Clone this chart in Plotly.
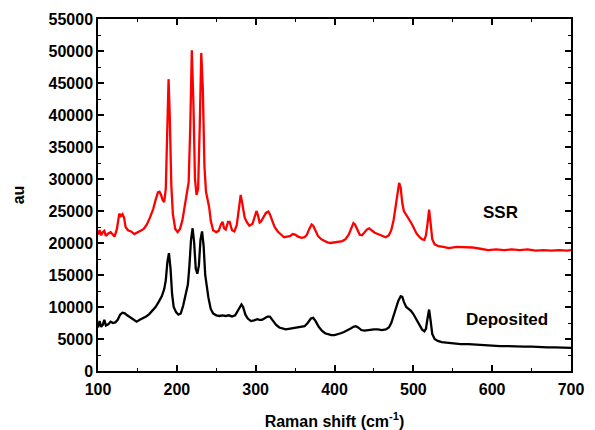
import plotly.graph_objects as go

# SSR spectrum (red)
ssr_x = [100,102,104,106,108,110,113,116,119,121,124,127,129,131,133,135,138,142,146,150,154,158,162,166,170,173,176,178,180,182,184,186,188,189.5,191,193,195,198,201,204,207,210,213,215,217,219,221,223,225,227,229,231,233,235,237,239,241,243,246,250,253,256,258,260,262,265,267,270,273,276,279,281,283,286,289,292,296,299,301,303,305,307,310,313,316,318,321,324,328,332,336,340,344,347,350,354,358,362,365,368,371,373,376,379,383,387,391,395,400,405,410,414,418,421,424,426,429,432,435,438,441,444,447,451,455,460,465,469,472,475,478,480,482,484,486,488,490,492,494,497,500,504,508,511,514,516,518,520,522,524,527,532,538,545,555,565,575,585,595,605,615,625,635,645,655,665,675,685,695,700]
ssr_y = [21300,22000,21200,21700,21900,21100,21500,21700,21300,21000,22200,24600,24200,24500,24000,22500,22000,21800,21400,21600,21900,22200,22900,24000,25300,26700,27900,28000,27500,26700,26400,28500,37000,45600,40000,29000,24500,22200,21700,22200,23500,26000,27900,29500,38000,50100,42000,30000,27500,28500,38000,49700,44000,32000,28000,26800,25600,23500,22000,21700,21900,22900,23300,22300,22100,23300,23300,22000,21800,22800,25500,27500,26200,24000,23200,22700,23000,24300,25000,24300,23200,23400,24000,24700,24900,24500,23500,22500,21800,21300,20900,21000,21100,21400,21300,21000,20800,20900,21300,22200,22900,22700,21800,21100,20600,20300,20100,20000,20100,20100,20300,20600,21300,22200,23100,22900,22000,21300,21200,21600,22100,22300,22000,21600,21400,21100,20900,21200,22000,23600,26000,28300,29400,28600,26200,25000,24600,24400,23800,23200,22500,21500,20900,20600,20500,21200,23000,25200,23000,20600,19800,19500,19400,19200,19400,19400,19300,19100,18900,19000,18900,19000,18900,19000,18800,18900,18800,18900,18800,18900]

# Deposited spectrum (black)
dep_x = [100,102,104,106,108,110,113,116,119,122,125,128,131,134,137,141,145,149,153,157,161,165,169,173,177,181,184,186,188,190,192,194,196,199,202,205,208,211,214,216,218,220,222,224,226,228,230,232,234,236,238,240,243,246,250,254,258,262,266,270,274,277,280,282,284,287,290,294,298,302,305,308,311,315,318,322,326,330,334,338,342,346,350,354,358,362,366,370,373,376,380,384,388,392,396,400,404,408,412,416,420,424,427,430,434,438,442,446,450,455,460,465,469,472,475,478,481,484,486,488,491,494,497,500,504,508,511,514,516,518,520,522,524,527,531,536,542,550,560,570,580,590,600,610,620,630,640,650,660,670,680,690,700]
dep_y = [6800,7800,6900,7200,8000,7100,7300,7700,7500,7600,8000,8800,9100,9000,8700,8400,8000,7700,8000,8200,8500,8900,9400,10000,10800,11700,12800,14200,17000,18400,16000,12000,10000,9200,8800,9000,10200,11800,13500,16500,20500,22300,20000,16000,15200,16500,20500,21800,19500,15000,13000,11500,9700,9000,8700,8600,8700,8600,8700,8500,8700,9300,10100,10400,10000,8800,8200,7800,7900,8100,8000,8000,8200,8500,8500,7900,7200,6800,6600,6500,6600,6700,6700,6800,6900,7000,7500,8200,8300,7800,6900,6300,5900,5700,5600,5600,5700,5900,6100,6300,6600,6900,7000,6800,6400,6300,6400,6500,6500,6500,6400,6500,6800,7500,8600,9900,11000,11700,11600,10800,10000,9700,9400,8900,8000,7200,6500,6200,6600,8200,9600,7800,5800,5000,4700,4500,4400,4300,4200,4200,4100,4000,4000,3900,3900,3800,3800,3800,3700,3700,3700,3600,3600]

x_ticks = [100, 200, 300, 400, 500, 600, 700]
y_ticks = [0, 5000, 10000, 15000, 20000, 25000, 30000, 35000, 40000, 45000, 50000, 55000]

labels = ["SSR", "Deposited"]
label_x = [610, 619]
label_y = [24700, 8000]

FONT = "Liberation Sans, Arial, sans-serif"
tickfont = dict(family=FONT, size=16, color="black", weight="bold")

fig = go.Figure()
fig.add_trace(go.Scatter(x=ssr_x, y=ssr_y, mode="lines", line=dict(color="#ff0000", width=2.3), name="SSR"))
fig.add_trace(go.Scatter(x=dep_x, y=dep_y, mode="lines", line=dict(color="#000000", width=2.3), name="Deposited"))

for t, xx, yy in zip(labels, label_x, label_y):
    fig.add_annotation(x=xx, y=yy, text="<b>%s</b>" % t, showarrow=False,
                       font=dict(family=FONT, size=17, color="black"))

axis_common = dict(showline=True, linecolor="black", linewidth=1.5, mirror="allticks",
                   ticks="inside", ticklen=6, tickwidth=1.5, tickcolor="black",
                   showgrid=False, zeroline=False, automargin=False,
                   tickfont=tickfont)

fig.update_xaxes(range=[100, 700], tickvals=x_ticks, ticktext=[str(v) for v in x_ticks],
                 ticklabelstandoff=3,
                 minor=dict(ticks="inside", ticklen=3, tickwidth=1, tickcolor="black", dtick=50, tick0=100),
                 title=dict(text="<b>Raman shift (cm<sup>-1</sup>)</b>", font=dict(family=FONT, size=16, color="black"), standoff=19),
                 **axis_common)
fig.update_yaxes(range=[0, 55000], tickvals=y_ticks, ticktext=[str(v) for v in y_ticks],
                 minor=dict(ticks="inside", ticklen=3, tickwidth=1, tickcolor="black", dtick=2500, tick0=0),
                 title=dict(text="<b>au</b>", font=dict(family=FONT, size=16, color="black"), standoff=20),
                 **axis_common)

# page body has an 8px margin, so the figure is sized/offset to compensate
fig.update_layout(width=587, height=422, margin=dict(l=90, r=24, t=11, b=59),
                  plot_bgcolor="white", paper_bgcolor="white", showlegend=False,
                  font=dict(family=FONT, color="black"))

fig.write_html("out.html")
